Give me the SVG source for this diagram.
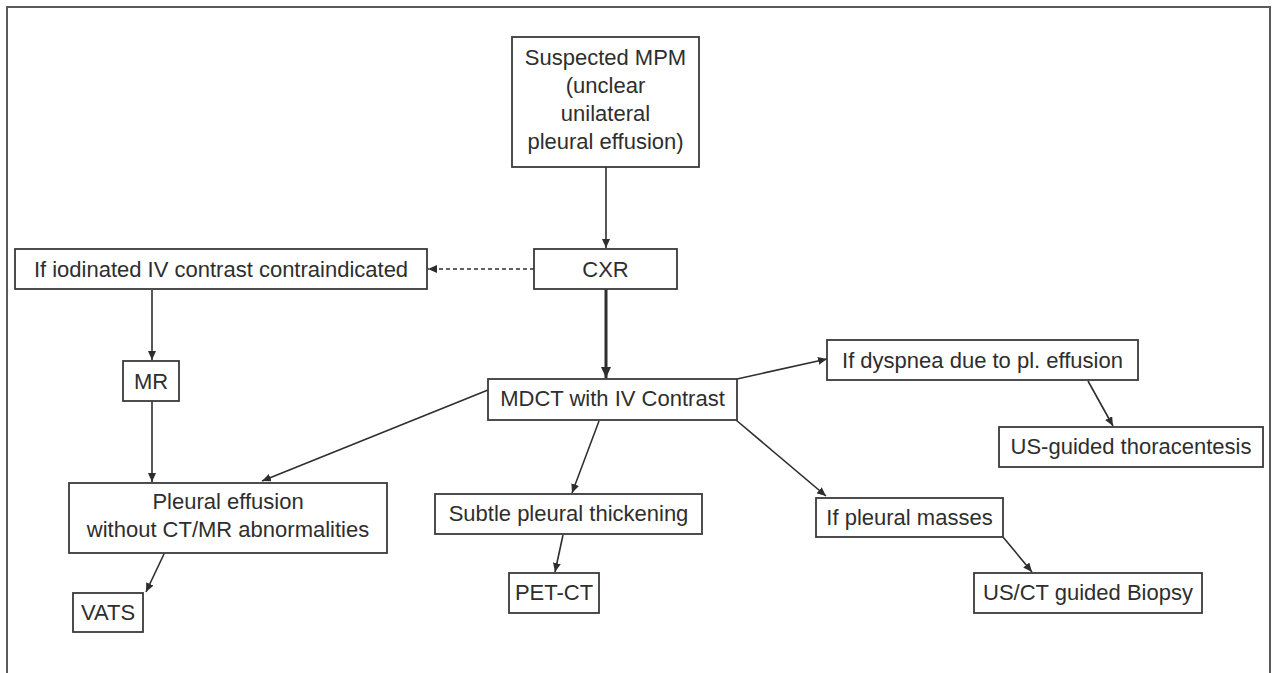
<svg xmlns="http://www.w3.org/2000/svg" width="1273" height="673" viewBox="0 0 1273 673">
<style>
.box{fill:#fff;stroke:#3a3a3a;stroke-width:1.8}
.t{font-family:"Liberation Sans",Arial,sans-serif;font-size:22px;fill:#2e2e2e;text-anchor:middle}
.c{fill:none;stroke:#2e2e2e;stroke-width:1.6}
.thick{stroke-width:3}
.dash{stroke-dasharray:4 3}
</style>
<defs>
<marker id="ah" markerUnits="userSpaceOnUse" markerWidth="9" markerHeight="8" refX="9" refY="4" orient="auto">
<path d="M0,0 L9,4 L0,8 z" fill="#2e2e2e"/>
</marker>
<marker id="ahb" markerUnits="userSpaceOnUse" markerWidth="11" markerHeight="10" refX="11" refY="5" orient="auto">
<path d="M0,0 L11,5 L0,10 z" fill="#2e2e2e"/>
</marker>
</defs>
<rect x="7" y="7" width="1263" height="720" fill="none" stroke="#5a5a5a" stroke-width="2"/>
<g id="connectors">
<line class="c" x1="606" y1="167" x2="606" y2="248" marker-end="url(#ah)"/>
<line class="c dash" x1="534" y1="269" x2="428" y2="269" marker-end="url(#ah)"/>
<line class="c thick" x1="606" y1="289" x2="606" y2="378" marker-end="url(#ahb)"/>
<line class="c" x1="152" y1="290" x2="152" y2="360" marker-end="url(#ah)"/>
<line class="c" x1="152" y1="401" x2="152" y2="482" marker-end="url(#ah)"/>
<line class="c" x1="488" y1="390" x2="262" y2="481" marker-end="url(#ah)"/>
<line class="c" x1="737" y1="379" x2="827" y2="359" marker-end="url(#ah)"/>
<line class="c" x1="1088" y1="381" x2="1113" y2="426" marker-end="url(#ah)"/>
<line class="c" x1="599" y1="421" x2="572" y2="493" marker-end="url(#ah)"/>
<line class="c" x1="736" y1="420" x2="826" y2="496" marker-end="url(#ah)"/>
<line class="c" x1="1003" y1="537" x2="1032" y2="572" marker-end="url(#ah)"/>
<line class="c" x1="164" y1="554" x2="146" y2="592" marker-end="url(#ah)"/>
<line class="c" x1="563" y1="535" x2="555" y2="572" marker-end="url(#ah)"/>
</g>
<g id="suspected">
<rect class="box" x="512" y="37" width="187" height="130"/>
<text class="t" x="605.5" y="65">Suspected MPM</text>
<text class="t" x="605.5" y="93">(unclear</text>
<text class="t" x="605.5" y="121">unilateral</text>
<text class="t" x="605.5" y="149">pleural effusion)</text>
</g>
<g id="cxr">
<rect class="box" x="534" y="249" width="143" height="40"/>
<text class="t" x="605.5" y="277">CXR</text>
</g>
<g id="iodinated">
<rect class="box" x="15" y="249" width="412" height="40"/>
<text class="t" x="221" y="277">If iodinated IV contrast contraindicated</text>
</g>
<g id="mr">
<rect class="box" x="123" y="361" width="56" height="40"/>
<text class="t" x="151" y="389">MR</text>
</g>
<g id="mdct">
<rect class="box" x="488" y="379" width="249" height="41"/>
<text class="t" x="612.5" y="406">MDCT with IV Contrast</text>
</g>
<g id="dyspnea">
<rect class="box" x="827" y="340" width="311" height="40"/>
<text class="t" x="982.5" y="368">If dyspnea due to pl. effusion</text>
</g>
<g id="thoracentesis">
<rect class="box" x="999" y="427" width="264" height="40"/>
<text class="t" x="1131" y="454">US-guided thoracentesis</text>
</g>
<g id="pleural-effusion">
<rect class="box" x="69" y="483" width="318" height="70"/>
<text class="t" x="228" y="509">Pleural effusion</text>
<text class="t" x="228" y="537">without CT/MR abnormalities</text>
</g>
<g id="vats">
<rect class="box" x="73" y="593" width="70" height="39"/>
<text class="t" x="108" y="620">VATS</text>
</g>
<g id="subtle">
<rect class="box" x="435" y="494" width="267" height="40"/>
<text class="t" x="568.5" y="521">Subtle pleural thickening</text>
</g>
<g id="petct">
<rect class="box" x="509" y="573" width="90" height="40"/>
<text class="t" x="554" y="600">PET-CT</text>
</g>
<g id="masses">
<rect class="box" x="816" y="498" width="187" height="39"/>
<text class="t" x="909.5" y="525">If pleural masses</text>
</g>
<g id="biopsy">
<rect class="box" x="974" y="573" width="228" height="40"/>
<text class="t" x="1088" y="600">US/CT guided Biopsy</text>
</g>
</svg>
